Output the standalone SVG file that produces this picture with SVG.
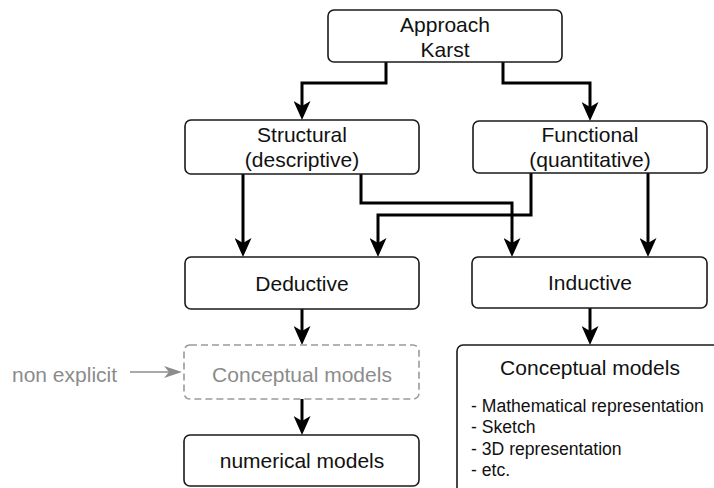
<svg xmlns="http://www.w3.org/2000/svg" width="714" height="488" viewBox="0 0 714 488">
  <style>
    .box { fill: #ffffff; stroke: #1a1a1a; stroke-width: 1.6; }
    .ghost { fill: #ffffff; stroke: #9a9a9a; stroke-width: 1.6; stroke-dasharray: 7 4; }
    .lbl { font-family: "Liberation Sans", Arial, sans-serif; font-size: 21px; fill: #111111; text-anchor: middle; }
    .gray { fill: #8c8c8c; }
    .item { font-family: "Liberation Sans", Arial, sans-serif; font-size: 17.6px; fill: #111111; }
    .link { fill: none; stroke: #000000; stroke-width: 3; stroke-linejoin: miter; marker-end: url(#head); }
    .hint { fill: none; stroke: #8c8c8c; stroke-width: 1.6; marker-end: url(#headGray); }
  </style>
  <defs>
    <marker id="head" markerUnits="userSpaceOnUse" viewBox="0 0 19 17" markerWidth="19" markerHeight="17" refX="5" refY="8.5" orient="auto">
      <path d="M0,0 L19,8.5 L0,17 L5,8.5 Z" fill="#000000"/>
    </marker>
    <marker id="headGray" markerUnits="userSpaceOnUse" viewBox="0 0 18 12" markerWidth="18" markerHeight="12" refX="5" refY="6" orient="auto">
      <path d="M0,0 L18,6 L0,12 L5,6 Z" fill="#8c8c8c"/>
    </marker>
  </defs>

  <!-- connectors -->
  <g id="connectors">
    <path class="link" d="M386,62 V83 H302 V106"/>
    <path class="link" d="M503,62 V83 H590 V107"/>
    <path class="link" d="M243,174 V243"/>
    <path class="link" d="M361,174 V203 H512 V243"/>
    <path class="link" d="M531,173 V215 H378 V243"/>
    <path class="link" d="M648,173 V243"/>
    <path class="link" d="M302,309 V331"/>
    <path class="link" d="M302,399 V421"/>
    <path class="link" d="M590,308 V331"/>
    <path class="hint" d="M130,372 H169"/>
  </g>

  <g id="approach">
    <rect class="box" x="328" y="10" width="234" height="52" rx="6"/>
    <text class="lbl" x="445" y="32">Approach</text>
    <text class="lbl" x="445" y="57">Karst</text>
  </g>

  <g id="structural">
    <rect class="box" x="185" y="120" width="234" height="54" rx="6"/>
    <text class="lbl" x="302" y="142">Structural</text>
    <text class="lbl" x="302" y="167">(descriptive)</text>
  </g>

  <g id="functional">
    <rect class="box" x="473" y="121" width="234" height="52" rx="6"/>
    <text class="lbl" x="590" y="142">Functional</text>
    <text class="lbl" x="590" y="167">(quantitative)</text>
  </g>

  <g id="deductive">
    <rect class="box" x="185" y="257" width="234" height="52" rx="6"/>
    <text class="lbl" x="302" y="291">Deductive</text>
  </g>

  <g id="inductive">
    <rect class="box" x="472" y="257" width="235" height="51" rx="6"/>
    <text class="lbl" x="590" y="290">Inductive</text>
  </g>

  <g id="conceptual-implicit">
    <rect class="ghost" x="184" y="345" width="235" height="54" rx="6"/>
    <text class="lbl gray" x="302" y="382">Conceptual models</text>
  </g>

  <g id="non-explicit">
    <text class="lbl gray" x="12" y="382" style="text-anchor:start">non explicit</text>
  </g>

  <g id="numerical">
    <rect class="box" x="184" y="435" width="235" height="51" rx="6"/>
    <text class="lbl" x="302" y="468">numerical models</text>
  </g>

  <g id="conceptual-explicit">
    <rect class="box" x="457" y="345" width="270" height="160" rx="6"/>
    <text class="lbl" x="590" y="375">Conceptual models</text>
    <text class="item" x="471" y="412">- Mathematical representation</text>
    <text class="item" x="471" y="433">- Sketch</text>
    <text class="item" x="471" y="455">- 3D representation</text>
    <text class="item" x="471" y="476">- etc.</text>
  </g>
</svg>
